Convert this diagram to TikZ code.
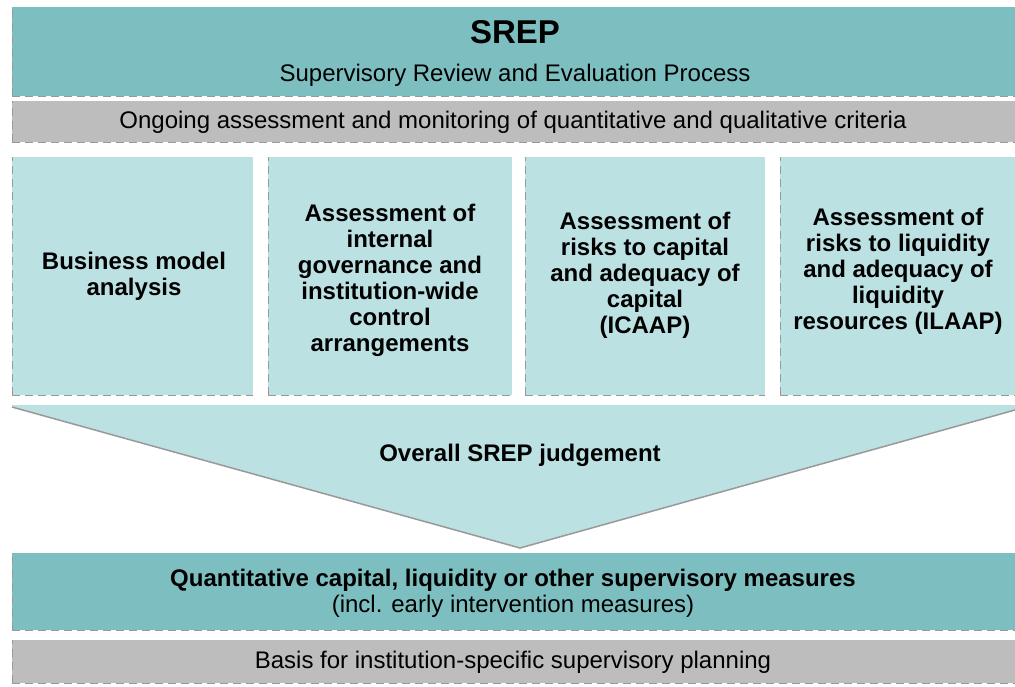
\documentclass[tikz,border=0pt]{standalone}
\usepackage{fontspec}
\setmainfont{Liberation Sans}
\definecolor{teal1}{HTML}{7DBFC1}
\definecolor{light1}{HTML}{BCE1E3}
\definecolor{gray1}{HTML}{BDBDBD}
\definecolor{edge1}{HTML}{999999}
\begin{document}
\begin{tikzpicture}[x=1pt,y=-1pt,
  txt/.style={font=\fontsize{24}{26}\selectfont, text=black, align=center, inner sep=0pt},
  btxt/.style={txt, font=\fontsize{24}{26}\selectfont\bfseries},
  rim/.style={draw=edge1, line width=1pt, dash pattern=on 8pt off 5pt}]
\useasboundingbox (0,0) rectangle (1015,686);
\fill[white] (0,0) rectangle (1015,686);
% top SREP box
\fill[teal1] (12,7) rectangle (1015,96);
\draw[rim] (12,96) -- (1015,96);
\draw[rim] (12,96) -- (12,7);
\node[btxt, font=\fontsize{33}{36}\selectfont\bfseries] (srep) at (515,32) {SREP};
\node[txt] (srepsub) at (515,75) {Supervisory Review and Evaluation Process};
% gray bar
\fill[gray1] (12,101) rectangle (1015,142);
\draw[rim] (12,142) -- (1015,142);
\draw[rim] (12,142) -- (12,101);
\node[txt] (ongoing) at (513,122) {Ongoing assessment and monitoring of quantitative and qualitative criteria};
% four boxes
\foreach \xa/\xb in {12/253, 268/512, 525/765, 780/1015}{
  \fill[light1] (\xa,157) rectangle (\xb,395);
  \draw[rim] (\xa,395) -- (\xb,395);
  \draw[rim] (\xa,395) -- (\xa,157);
}
\node[btxt] (b1) at (134,276) {Business model\\analysis};
\node[btxt] (b2) at (390,280) {Assessment of\\internal\\governance and\\institution-wide\\control\\arrangements};
\node[btxt] (b3) at (645,275) {Assessment of\\risks to capital\\and adequacy of\\capital\\(ICAAP)};
\node[btxt] (b4) at (898,271) {Assessment of\\risks to liquidity\\and adequacy of\\liquidity\\resources (ILAAP)};
% funnel
\fill[light1] (12,405) -- (1015,405) -- (1015,410) -- (520,548) -- (12,407) -- cycle;
\draw[edge1, line width=1.5pt] (12,407) -- (520,548) -- (1015,410);
\node[btxt] (overall) at (520,455) {Overall SREP judgement};
% quantitative box
\fill[teal1] (12,553) rectangle (1015,630);
\draw[rim] (12,630) -- (1015,630);
\draw[rim] (12,630) -- (12,553);
\node[btxt] (quant) at (513,580) {Quantitative capital, liquidity or other supervisory measures};
\node[txt] (incl) at (513,606) {(incl. early intervention measures)};
% bottom gray bar
\fill[gray1] (12,640) rectangle (1015,683);
\draw[rim] (12,683) -- (1015,683);
\draw[rim] (12,683) -- (12,640);
\node[txt] (basis) at (513,662) {Basis for institution-specific supervisory planning};
\end{tikzpicture}
\end{document}
